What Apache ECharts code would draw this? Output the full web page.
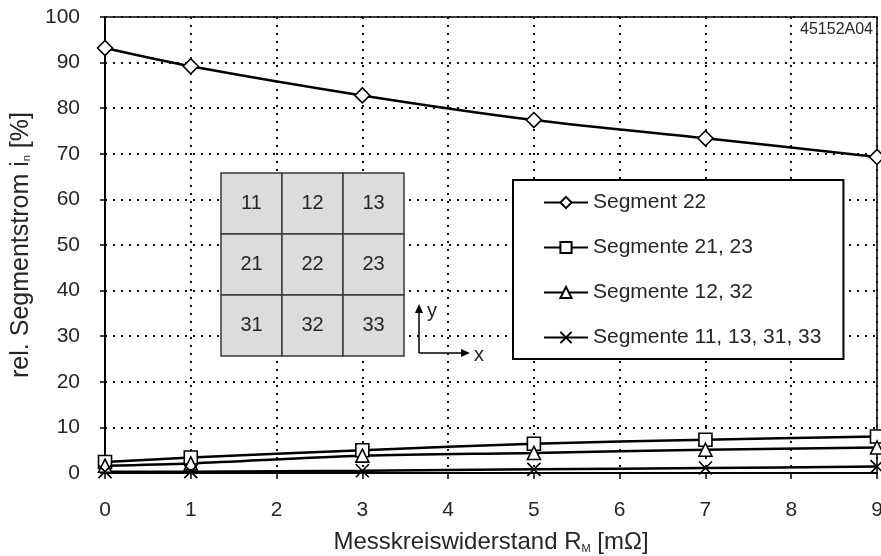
<!DOCTYPE html>
<html><head><meta charset="utf-8">
<script src="https://cdn.jsdelivr.net/npm/echarts@6/dist/echarts.min.js"></script>
<style>html,body{margin:0;padding:0;background:#fff}#c{width:881px;height:556px}</style>
</head><body><div id="c"></div>
<script>
const xValues = [0, 1, 3, 5, 7, 9];
const seg22 = [93.2, 89.2, 82.8, 77.4, 73.4, 69.3];
const seg2123 = [2.4, 3.4, 5.0, 6.4, 7.3, 8.0];
const seg1232 = [1.6, 2.1, 3.8, 4.4, 5.1, 5.6];
const seg11133133 = [0.3, 0.3, 0.5, 0.8, 1.1, 1.4];
const seriesNames = ['Segment 22', 'Segmente 21, 23', 'Segmente 12, 32', 'Segmente 11, 13, 31, 33'];
const insetLabels = [['11','12','13'],['21','22','23'],['31','32','33']];

const FONT = 'Liberation Sans, Arial, sans-serif';
const TXT = '#262626';
const crossPath = 'path://M0,0L10,10M10,0L0,10';

function pairs(vals){ return xValues.map((x,i)=>[x, vals[i]]); }

function mkSeries(name, vals, symbol, size){
  return {
    name, type:'line', data: pairs(vals), smooth:0.3,
    symbol, symbolSize:size, showSymbol:true,
    lineStyle:{color:'#000', width:2.5},
    itemStyle:{color:'#fff', borderColor:'#000', borderWidth:1.6},
    emphasis:{disabled:true}, z: 3
  };
}

const graphic = [];
const gx = 221, gy = 173, cw = 61, ch = 61;
insetLabels.forEach((row,r)=>row.forEach((lab,c)=>{
  graphic.push({type:'rect', shape:{x:gx+c*cw, y:gy+r*ch, width:cw, height:ch},
    style:{fill:'#dcdcdc', stroke:'#3a3a3a', lineWidth:1.5}, z:10});
  graphic.push({type:'text', x:gx+c*cw+cw/2, y:gy+r*ch+ch/2,
    style:{text:lab, fill:TXT, font:'20px '+FONT, textAlign:'center', textVerticalAlign:'middle'}, z:11});
}));
// axis arrows
graphic.push({type:'line', shape:{x1:419,y1:353,x2:419,y2:309}, style:{stroke:'#000',lineWidth:1.5}, z:11});
graphic.push({type:'polygon', shape:{points:[[419,304],[415,313],[423,313]]}, style:{fill:'#000'}, z:11});
graphic.push({type:'line', shape:{x1:419,y1:353,x2:465,y2:353}, style:{stroke:'#000',lineWidth:1.5}, z:11});
graphic.push({type:'polygon', shape:{points:[[470,353],[461,349],[461,357]]}, style:{fill:'#000'}, z:11});
graphic.push({type:'text', x:427, y:311, style:{text:'y', fill:TXT, font:'20px '+FONT, textAlign:'left', textVerticalAlign:'middle'}, z:11});
graphic.push({type:'text', x:474, y:355, style:{text:'x', fill:TXT, font:'20px '+FONT, textAlign:'left', textVerticalAlign:'middle'}, z:11});
graphic.push({type:'text', x:873, y:30, style:{text:'45152A04', fill:TXT, font:'16px '+FONT, textAlign:'right', textVerticalAlign:'middle'}, z:11});

const chart = echarts.init(document.getElementById('c'), null, {renderer:'canvas'});
chart.setOption({
  animation:false,
  backgroundColor:'#fff',
  grid:{left:105, right:4, top:17, bottom:83, show:true, borderColor:'#000', borderWidth:1.5, backgroundColor:'transparent', containLabel:false, outerBoundsMode:'none'},
  xAxis:{
    type:'value', min:0, max:9, interval:1,
    name:'Messkreiswiderstand R{s|M} [mΩ]', nameLocation:'middle', nameGap:57,
    nameTextStyle:{fontSize:24, color:TXT, fontFamily:FONT, rich:{s:{fontSize:11, color:TXT, fontFamily:FONT, verticalAlign:'bottom', padding:[10,0,0,0]}}},
    axisLine:{show:true, onZero:false, lineStyle:{color:'#000', width:2}},
    axisTick:{show:true, inside:false, length:6, lineStyle:{color:'#000', width:1.5}},
    axisLabel:{fontSize:21, color:TXT, fontFamily:FONT, margin:27},
    splitLine:{show:true, lineStyle:{color:'#111', width:2, type:[2,6]}}
  },
  yAxis:{
    type:'value', min:0, max:100, interval:10,
    name:'rel. Segmentstrom i{s|n} [%]', nameLocation:'middle', nameGap:71, nameRotate:90,
    nameTextStyle:{fontSize:25, color:TXT, fontFamily:FONT, rich:{s:{fontSize:11, color:TXT, fontFamily:FONT, padding:[10,0,0,0]}}},
    axisLine:{show:true, lineStyle:{color:'#000', width:2}},
    axisTick:{show:true, length:5, lineStyle:{color:'#000', width:1.5}},
    axisLabel:{fontSize:21, color:TXT, fontFamily:FONT, margin:25},
    splitLine:{show:true, lineStyle:{color:'#111', width:2, type:[2,6]}}
  },
  legend:{
    orient:'vertical', left:513, top:180, data:seriesNames,
    backgroundColor:'#fff', borderColor:'#000', borderWidth:2,
    padding:[12, 22, 11, 30], itemGap:24, itemWidth:44, itemHeight:14,
    textStyle:{fontSize:21, color:TXT, fontFamily:FONT}, z:20
  },
  graphic: graphic,
  series:[
    mkSeries(seriesNames[0], seg22, 'diamond', 15),
    mkSeries(seriesNames[1], seg2123, 'rect', 13),
    mkSeries(seriesNames[2], seg1232, 'triangle', 13),
    mkSeries(seriesNames[3], seg11133133, crossPath, 13)
  ]
});
</script></body></html>
